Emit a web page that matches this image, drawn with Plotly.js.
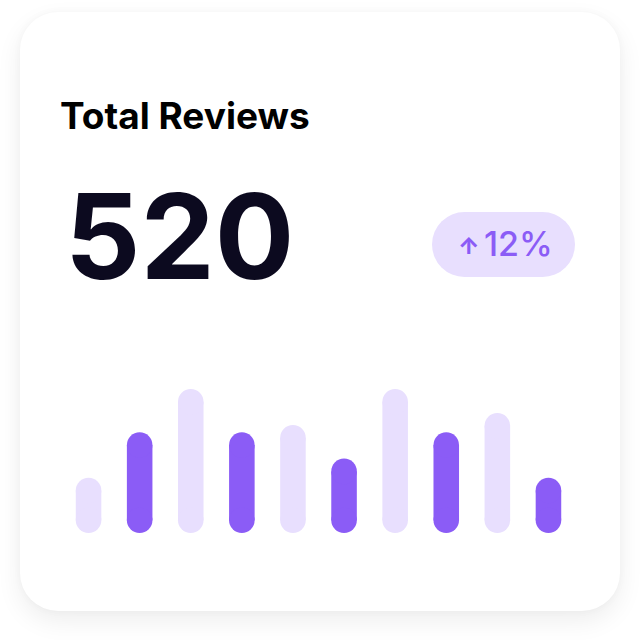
<!DOCTYPE html>
<html><head><meta charset="utf-8">
<script src="https://cdn.plot.ly/plotly-3.0.1.min.js"></script>
<style>
html,body{margin:0;padding:0;background:#fff;width:640px;height:640px;overflow:hidden}
#card{position:absolute;left:20px;top:12px;width:600px;height:599px;border-radius:38px;background:#fff;box-shadow:0 10px 26px rgba(0,0,0,0.07),0 0 8px rgba(0,0,0,0.03)}
#pill{position:absolute;left:432px;top:212px;width:143px;height:65px;border-radius:33px;background:#E8DFFE}
#chart{position:absolute;left:0;top:0;width:640px;height:640px}
</style></head><body>
<div id="card"></div><div id="pill"></div><div id="chart"></div>
<script>
// ---- data ----
const periods = ['P1','P2','P3','P4','P5','P6','P7','P8','P9','P10'];
const reviews = [23, 42, 60, 42, 45, 31, 60, 42, 50, 23];
const barShades = ['light','dark','light','dark','light','dark','light','dark','light','dark'];
const cardTitle = 'Total Reviews';
const totalValue = '520';
const changeArrow = '↑';
const changeValue = '12%';

// ---- geometry / styles ----
const palette = {light:'#E8DFFE', dark:'#8B5CF6'};
const colors = barShades.map(s => palette[s]);

const L = 63, R = 66, T = 389, B = 107;
const W = 640 - L - R, H = 640 - T - B;
const yMax = 60;
const barFrac = 0.5;                       // bar width in category units
const barPx = barFrac * W / periods.length; // bar width in pixels
const capR = (barPx / 2) * yMax / H;       // cap radius in data units

// bar bodies between the two round caps
const body = {type:'bar', x: periods, width: barFrac,
  base: reviews.map(() => capR), y: reviews.map(v => v - 2*capR),
  marker:{color: colors, line:{width:0}}, hoverinfo:'skip', showlegend:false};
// round caps at both ends
const caps = {type:'scatter', mode:'markers',
  x: periods.concat(periods), y: reviews.map(v => v - capR).concat(reviews.map(() => capR)),
  marker:{symbol:'circle', size: barPx, color: colors.concat(colors), line:{width:0}},
  hoverinfo:'skip', showlegend:false, cliponaxis:false};

const px = x => (x - L) / W;
const py = y => (640 - B - y) / H;

const layout = {
  width: 640, height: 640,
  margin: {l: L, r: R, t: T, b: B, pad: 0},
  paper_bgcolor: 'rgba(0,0,0,0)', plot_bgcolor: 'rgba(0,0,0,0)',
  xaxis: {visible:false, range:[-0.5, 9.5], fixedrange:true},
  yaxis: {visible:false, range:[0, yMax], fixedrange:true},
  title: {text: cardTitle, x: 60/640, xanchor:'left', y: 1 - 116/640, yanchor:'middle',
          font:{family:'Inter', size:37, weight:700, color:'#000000'}},
  annotations: [
    {text: totalValue, xref:'paper', yref:'paper', x: px(63), xanchor:'left', y: py(236), yanchor:'middle',
     showarrow:false, font:{family:'Inter', size:118, weight:700, color:'#0C0A1F'}},
    {text: changeArrow, xref:'paper', yref:'paper', x: px(468), xanchor:'center', y: py(246), yanchor:'middle',
     showarrow:false, font:{family:'Inter', size:23, weight:800, color:'#8B5CF6'}},
    {text: changeValue, xref:'paper', yref:'paper', x: px(518), xanchor:'center', y: py(244), yanchor:'middle',
     showarrow:false, font:{family:'Inter', size:34, weight:500, color:'#8B5CF6'}}
  ]
};
Plotly.newPlot('chart', [body, caps], layout, {displayModeBar:false, staticPlot:true});
</script>
</body></html>
